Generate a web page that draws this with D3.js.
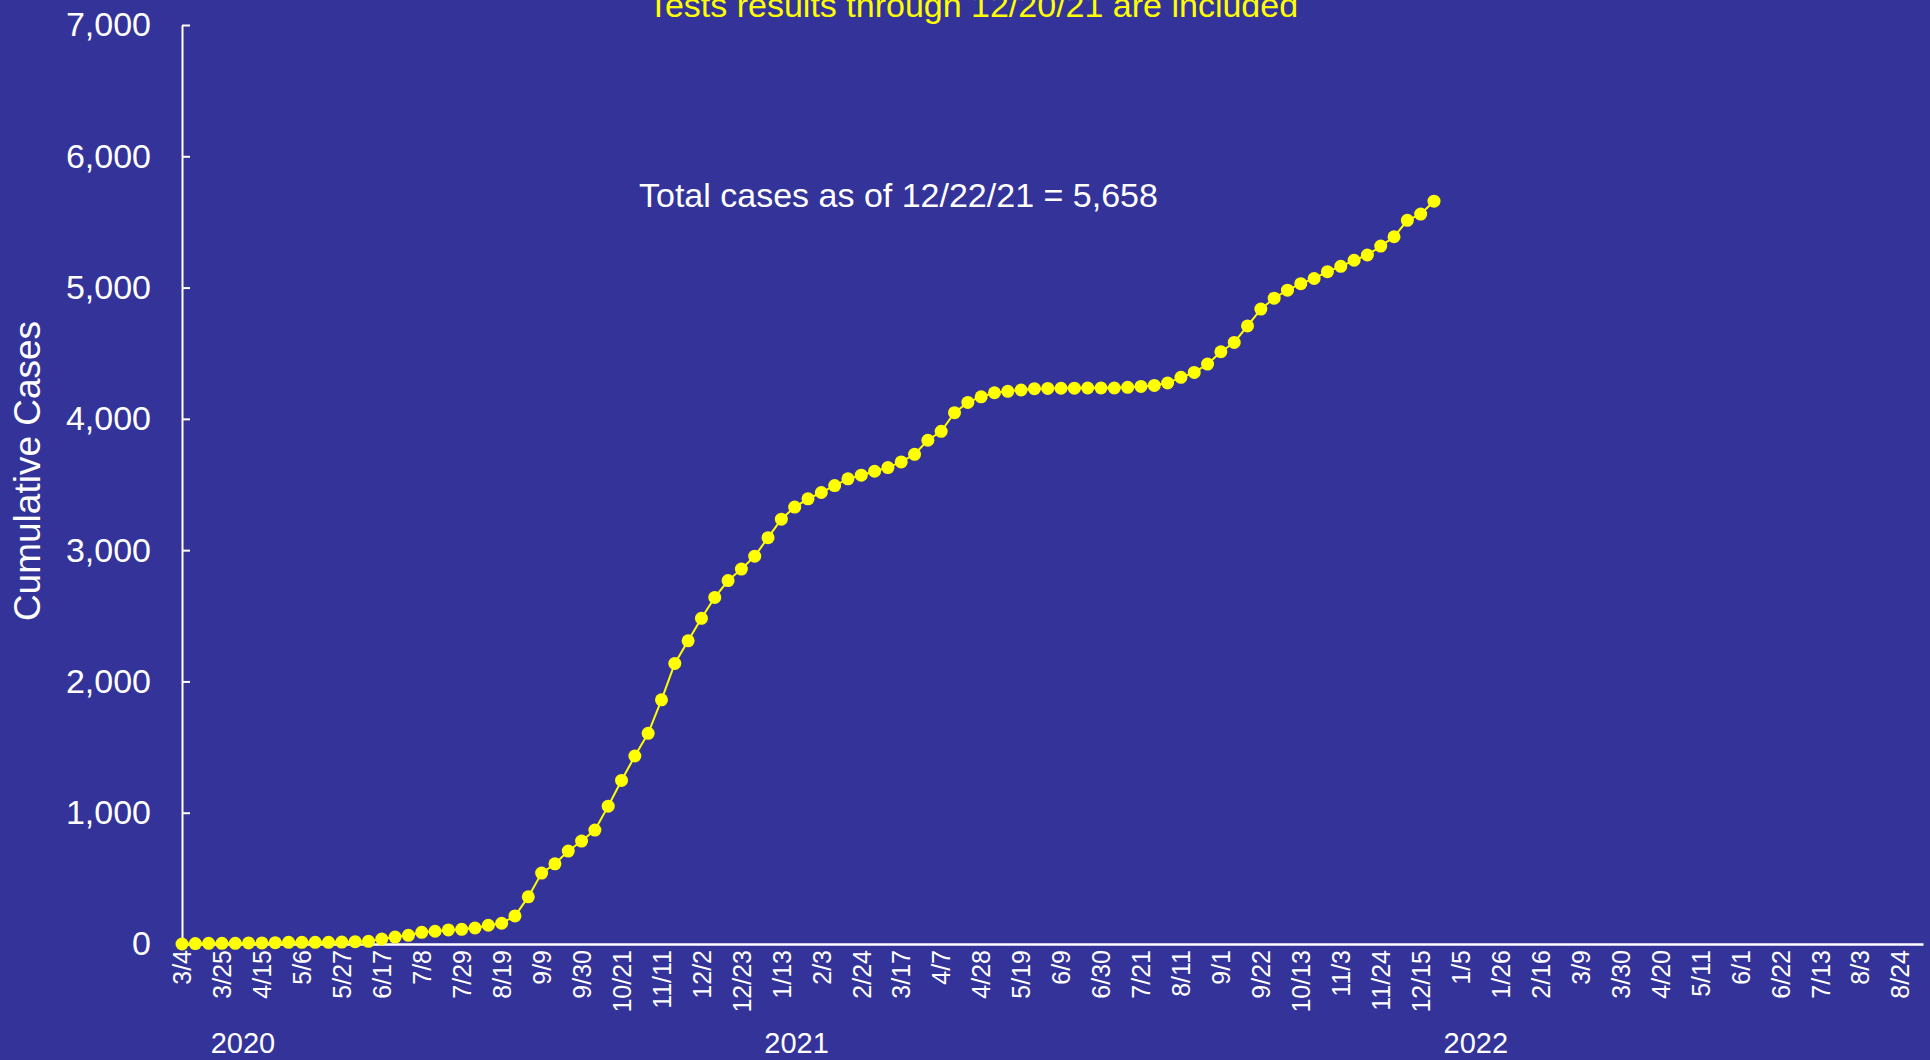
<!DOCTYPE html>
<html>
<head>
<meta charset="utf-8">
<script src="https://cdn.jsdelivr.net/npm/d3@7"></script>
<style>
  body { margin: 0; background: #333399; }
  svg { display: block; font-family: "Liberation Sans", Arial, sans-serif; }
</style>
</head>
<body>
<svg width="1930" height="1060"></svg>
<script>
// weekly cumulative cases, first week 3/4/2020, last 12/22/2021
const startDate = new Date(2020, 2, 4);
const endDate = new Date(2022, 8, 5);
const cases = [
  0, 3, 5, 5, 5, 8, 8, 10, 13, 13, 13, 13, 15, 18, 20, 38, 53, 66, 89, 97,
  107, 112, 122, 143, 158, 214, 359, 540, 611, 708, 784, 868, 1050, 1246, 1432, 1605, 1860, 2137, 2309, 2481,
  2640, 2768, 2856, 2954, 3095, 3236, 3328, 3391, 3439, 3492, 3543, 3571, 3601, 3629, 3672, 3730, 3837, 3905, 4047, 4125,
  4168, 4199, 4210, 4220, 4230, 4232, 4233, 4234, 4235, 4235, 4235, 4240, 4247, 4255, 4273, 4316, 4354, 4417, 4511, 4582,
  4708, 4836, 4919, 4980, 5030, 5069, 5121, 5162, 5208, 5248, 5316, 5387, 5512, 5560, 5658
];
const yTicks = [0, 1000, 2000, 3000, 4000, 5000, 6000, 7000];
const tickCount = 44;   // x labels every 3 weeks, 3/4/2020 .. 8/24/2022
const yearLabels = ["2020", "2021", "2022"];
const yearDates = [new Date(2020, 3, 5), new Date(2021, 0, 21), new Date(2022, 0, 13)];
const titleText = "Tests results through 12/20/21 are included";
const noteText = "Total cases as of 12/22/21 = 5,658";

const data = cases.map((v, i) => ({ date: d3.timeDay.offset(startDate, 7 * i), value: v }));
const xTickValues = d3.range(tickCount).map(i => d3.timeDay.offset(startDate, 21 * i));

const svg = d3.select("svg");
const margin = { top: 25, right: 7, bottom: 116, left: 182 };
const width = 1930, height = 1060;

const x = d3.scaleTime()
    .domain([startDate, endDate])
    .range([margin.left, width - margin.right]);
const y = d3.scaleLinear()
    .domain([0, 7000])
    .range([height - margin.bottom, margin.top]);

svg.append("rect").attr("width", width).attr("height", height).attr("fill", "#333399");

// x axis
svg.append("g")
    .attr("transform", "translate(0," + (height - margin.bottom) + ")")
    .call(d3.axisBottom(x).tickValues(xTickValues).tickFormat(d3.timeFormat("%-m/%-d")).tickSize(0).tickSizeOuter(0))
    .call(g => g.select(".domain").attr("stroke", "#fff").attr("stroke-width", 2.5))
    .call(g => g.selectAll(".tick text")
        .attr("fill", "#fff")
        .attr("font-size", 25)
        .attr("transform", "rotate(-90)")
        .attr("text-anchor", "end")
        .attr("x", -6)
        .attr("y", 0)
        .attr("dy", "0.35em"));

// y axis
svg.append("g")
    .attr("transform", "translate(" + margin.left + ",0)")
    .call(d3.axisLeft(y).tickValues(yTicks).tickFormat(d3.format(",")).tickSizeInner(-8).tickSizeOuter(0).tickPadding(31))
    .call(g => g.select(".domain").attr("stroke", "#fff").attr("stroke-width", 2))
    .call(g => g.selectAll(".tick line").attr("stroke", "#fff").attr("stroke-width", 2))
    .call(g => g.selectAll(".tick text").attr("fill", "#fff").attr("font-size", 34));

// year labels
svg.append("g").selectAll("text")
    .data(yearLabels)
    .join("text")
    .attr("x", (d, i) => x(yearDates[i]))
    .attr("y", 1053)
    .attr("text-anchor", "middle")
    .attr("fill", "#fff")
    .attr("font-size", 29)
    .text(d => d);

// y title
svg.append("text")
    .attr("transform", "translate(40," + 471 + ") rotate(-90)")
    .attr("text-anchor", "middle")
    .attr("fill", "#fff")
    .attr("font-size", 37)
    .text("Cumulative Cases");

// annotations
svg.append("text")
    .attr("x", 973).attr("y", 17)
    .attr("text-anchor", "middle")
    .attr("fill", "#ffff00")
    .attr("font-size", 34)
    .text(titleText);

svg.append("text")
    .attr("x", 639).attr("y", 207)
    .attr("fill", "#fff")
    .attr("font-size", 34)
    .text(noteText);

// series
const line = d3.line()
    .x(d => x(d.date))
    .y(d => y(d.value));

svg.append("path")
    .datum(data)
    .attr("fill", "none")
    .attr("stroke", "#ffff00")
    .attr("stroke-width", 2)
    .attr("d", line);

svg.append("g").selectAll("circle")
    .data(data)
    .join("circle")
    .attr("cx", d => x(d.date))
    .attr("cy", d => y(d.value))
    .attr("r", 6.5)
    .attr("fill", "#ffff00");
</script>
</body>
</html>
